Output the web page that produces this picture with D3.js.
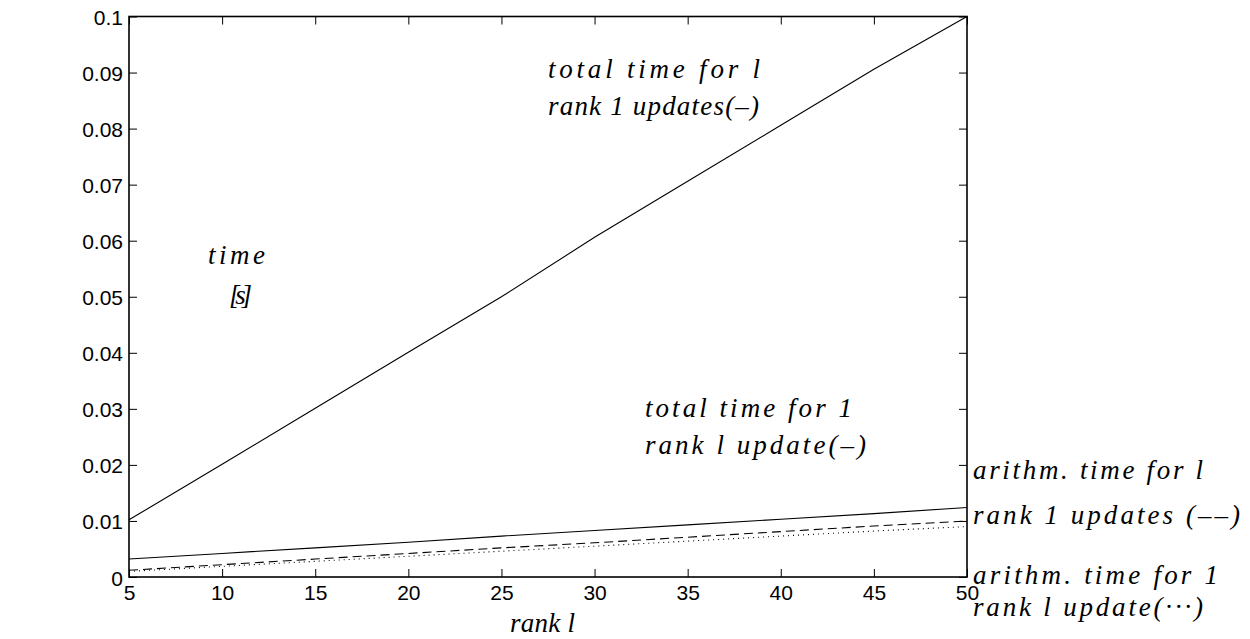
<!DOCTYPE html>
<html><head><meta charset="utf-8">
<script src="https://cdn.jsdelivr.net/npm/d3@7/dist/d3.min.js"></script>
<style>
body{margin:0;background:#fff;}
svg{display:block;}
</style></head>
<body>
<svg id="c" width="1250" height="639"></svg>
<script>
const ranks = [5,10,15,20,25,30,35,40,45,50];
const totalRank1 = [0.0102,0.0201,0.0301,0.0401,0.0500,0.0606,0.0706,0.0806,0.0906,0.1000];
const totalRankL = [0.0032,0.0042,0.0052,0.0062,0.0073,0.0083,0.0093,0.0103,0.0113,0.0124];
const arithRank1 = [0.0012,0.0022,0.0032,0.0042,0.0052,0.0061,0.0071,0.0081,0.0091,0.0100];
const arithRankL = [0.0010,0.0019,0.0028,0.0037,0.0046,0.0055,0.0064,0.0073,0.0082,0.0090];
const xTicks = [5,10,15,20,25,30,35,40,45,50];
const yTicks = [0,0.01,0.02,0.03,0.04,0.05,0.06,0.07,0.08,0.09,0.1];
const yTickLabels = ["0","0.01","0.02","0.03","0.04","0.05","0.06","0.07","0.08","0.09","0.1"];

const SANS = '"Liberation Sans", Arial, Helvetica, sans-serif';
const SERIF = '"Liberation Serif", "Times New Roman", Times, serif';

const svg = d3.select("#c");
const L=129, R=967, T=16.5, B=577;
const x = d3.scaleLinear().domain([5,50]).range([L,R]);
const y = d3.scaleLinear().domain([0,0.1]).range([B,T]);

const tl = 8;
const gB = svg.append("g").attr("transform",`translate(0,${B})`)
  .call(d3.axisBottom(x).tickValues(xTicks).tickSize(-tl).tickFormat(d3.format("d")));
const gT = svg.append("g").attr("transform",`translate(0,${T})`)
  .call(d3.axisTop(x).tickValues(xTicks).tickSize(-tl).tickFormat(""));
const gL = svg.append("g").attr("transform",`translate(${L},0)`)
  .call(d3.axisLeft(y).tickValues(yTicks).tickSize(-tl).tickFormat((d,i)=>yTickLabels[i]));
const gR = svg.append("g").attr("transform",`translate(${R},0)`)
  .call(d3.axisRight(y).tickValues(yTicks).tickSize(-tl).tickFormat(""));
[gB,gT,gL,gR].forEach(g=>{
  g.select(".domain").remove();
  g.attr("font-size",null).attr("font-family",null);
  g.selectAll(".tick line").attr("stroke","#000").attr("stroke-width",1);
  g.selectAll(".tick text").style("font-size","21px").style("font-family",SANS).attr("fill","#000");
});
gB.selectAll(".tick text").attr("dy",null).attr("y",23);
gL.selectAll(".tick text").attr("dy",null).attr("x",-6).attr("y",8);

svg.append("rect").attr("x",L).attr("y",T).attr("width",R-L).attr("height",B-T)
  .attr("fill","none").attr("stroke","#000").attr("stroke-width",1.6);

const line = vals => d3.line().x((d,i)=>x(ranks[i])).y(d=>y(d))(vals);
svg.append("path").attr("d",line(totalRank1)).attr("fill","none").attr("stroke","#000").attr("stroke-width",1.1);
svg.append("path").attr("d",line(totalRankL)).attr("fill","none").attr("stroke","#000").attr("stroke-width",1.1);
svg.append("path").attr("d",line(arithRank1)).attr("fill","none").attr("stroke","#000").attr("stroke-width",1.1).attr("stroke-dasharray","9,5");
svg.append("path").attr("d",line(arithRankL)).attr("fill","none").attr("stroke","#000").attr("stroke-width",1.1).attr("stroke-dasharray","1,4");

function ann(txt,xx,yy,w){
  const t = svg.append("text").attr("x",xx).attr("y",yy).text(txt)
    .style("font-family",SERIF).style("font-style","italic").style("font-size","27px").attr("fill","#000");
  if(w) t.attr("textLength",w).attr("lengthAdjust","spacing");
  return t;
}
ann("total time for l",548,78,212);
ann("rank 1 updates(\u2013)",548,115,211);
ann("total time for 1",645,417,207);
ann("rank l  update(\u2013)",645,454,221);
ann("arithm. time for l",973,479,230);
ann("rank 1 updates (\u2013\u2013)",973,524,267);
ann("arithm. time for 1",973,584,245);
ann("rank l  update(\u00b7\u00b7\u00b7)",973,616,230);
ann("time",208,264,57);
ann("[s]",229,304,23);
ann("rank l",510,632,65);
</script>
</body></html>
